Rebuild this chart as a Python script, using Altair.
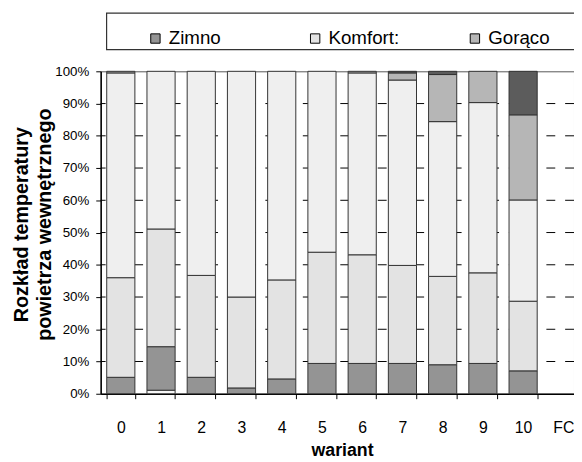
import altair as alt
import pandas as pd

# ---- data ----
wariants = ["0", "1", "2", "3", "4", "5", "6", "7", "8", "9", "10"]
categories = wariants + ["FC"]
series = ["Bardzo zimno", "Zimno", "Komfort:", "Komfort", "Gorąco", "Bardzo gorąco"]

bardzo_zimno = [0, 1.1, 0, 0, 0, 0, 0, 0, 0, 0, 0]
zimno = [5.1, 13.5, 5.1, 1.8, 4.6, 9.4, 9.4, 9.4, 9.0, 9.4, 7.1]
komfort_1 = [30.9, 36.5, 31.6, 28.2, 30.7, 34.5, 33.7, 30.4, 27.4, 28.1, 21.6]
komfort_2 = [63.5, 48.9, 63.3, 70.0, 64.7, 56.1, 56.4, 57.5, 48.0, 52.8, 31.4]
goraco = [0.5, 0, 0, 0, 0, 0, 0.5, 2.2, 14.6, 9.7, 26.4]
bardzo_goraco = [0, 0, 0, 0, 0, 0, 0, 0.5, 1.0, 0, 13.5]

y_ticks = [0, 0.1, 0.2, 0.3, 0.4, 0.5, 0.6, 0.7, 0.8, 0.9, 1.0]
legend_entries = ["Zimno", "Komfort:", "Gorąco"]
y_title = ["Rozkład temperatury", "powietrza wewnętrznego"]

# ---- styling ----
colors = ["#f7f7f7", "#949494", "#e3e3e3", "#efefef", "#b6b6b6", "#5c5c5c"]
FONT = "Liberation Sans"

all_values = [bardzo_zimno, zimno, komfort_1, komfort_2, goraco, bardzo_goraco]
rows = []
for si, name in enumerate(series):
    for ci, w in enumerate(wariants):
        v = all_values[si][ci]
        if v > 0:
            rows.append({"wariant": w, "seria": name, "kolejnosc": si, "udzial": v})
df = pd.DataFrame(rows)

grid_df = pd.DataFrame({"poziom": y_ticks[1:-1]})

y_scale = alt.Scale(domain=[0, 1], nice=False)

grid_lines = alt.Chart(grid_df).mark_rule(
    color="black", strokeWidth=1, strokeDash=[9, 10]
).encode(
    y=alt.Y("poziom:Q", scale=y_scale, title=y_title)
)

bars = alt.Chart(df).mark_bar(stroke="#333333", strokeWidth=1).encode(
    x=alt.X(
        "wariant:N",
        sort=categories,
        scale=alt.Scale(domain=categories, range=[0, 489.6], paddingInner=0.3, paddingOuter=0.15),
        axis=alt.Axis(
            title="wariant",
            labelAngle=0,
            tickBand="extent",
            grid=False,
            domainColor="black",
            domainWidth=1.5,
            tickColor="black",
            tickSize=5,
            tickWidth=1,
            labelFont=FONT,
            labelFontSize=16,
            labelColor="black",
            labelPadding=21,
            titleFont=FONT,
            titleFontSize=18,
            titleFontWeight="bold",
            titleColor="black",
            titlePadding=7,
        ),
    ),
    y=alt.Y(
        "udzial:Q",
        stack="normalize",
        scale=y_scale,
        axis=alt.Axis(
            title=y_title,
            values=y_ticks,
            tickCount=len(y_ticks),
            format=".0%",
            labelOverlap=False,
            grid=False,
            domainColor="black",
            domainWidth=1.5,
            tickColor="black",
            tickSize=5,
            tickWidth=1,
            labelFont=FONT,
            labelFontSize=13.5,
            labelColor="black",
            labelPadding=7,
            titleFont=FONT,
            titleFontSize=20,
            titleFontWeight="bold",
            titleColor="black",
            titleAngle=270,
            titleAlign="center",
            titleBaseline="bottom",
            titleX=-70,
            titleY=155,
            titleLineHeight=23,
        ),
    ),
    color=alt.Color(
        "seria:N",
        scale=alt.Scale(domain=series, range=colors),
        legend=alt.Legend(
            values=legend_entries,
            title=None,
            orient="none",
            legendX=46,
            legendY=-43,
            direction="horizontal",
            columns=3,
            gridAlign="all",
            columnPadding=67,
            padding=0,
            symbolType="square",
            symbolSize=90,
            symbolStrokeColor="black",
            symbolStrokeWidth=1,
            labelFont=FONT,
            labelFontSize=19,
            labelColor="black",
            labelOffset=4,
            labelLimit=300,
        ),
    ),
    order=alt.Order("kolejnosc:Q", sort="ascending"),
)

legend_box = alt.Chart(pd.DataFrame({"a": [0]})).mark_rect(
    fillOpacity=0, stroke="#333333", strokeWidth=1.2
).encode(
    x=alt.value(6), x2=alt.value(560), y=alt.value(-59), y2=alt.value(-22)
)

chart = alt.layer(grid_lines, bars, legend_box).properties(
    width=480,
    height=327,
    autosize=alt.AutoSizeParams(type="none"),
    padding={"left": 94, "top": 61, "right": 0, "bottom": 66},
    background="white",
).configure_view(stroke="#555555", strokeWidth=1)

chart.save("out.html", embed_options={"renderer": "svg", "actions": False})
